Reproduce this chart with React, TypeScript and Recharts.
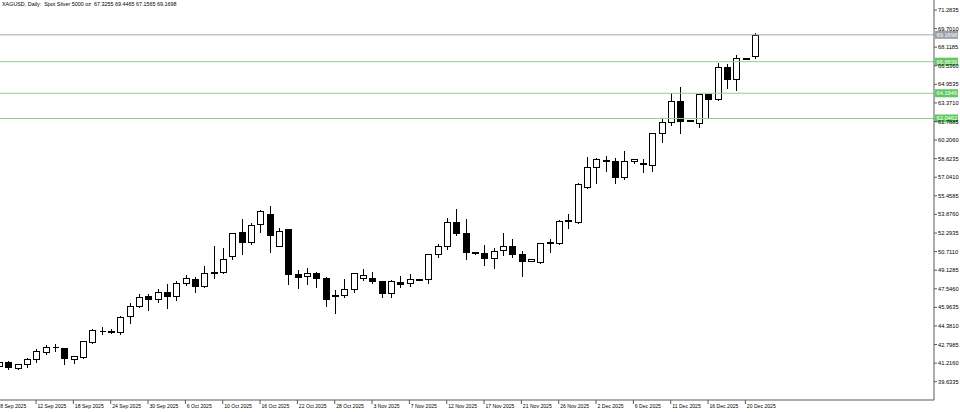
import React from "react";
import { Bar, ComposedChart, ReferenceLine, XAxis, YAxis } from "recharts";

// one label every 4 bars, starting at bar 0
const dateLabels = [
  "8 Sep 2025", "12 Sep 2025", "18 Sep 2025", "24 Sep 2025", "30 Sep 2025",
  "6 Oct 2025", "10 Oct 2025", "16 Oct 2025", "22 Oct 2025", "28 Oct 2025",
  "3 Nov 2025", "7 Nov 2025", "12 Nov 2025", "17 Nov 2025", "21 Nov 2025",
  "26 Nov 2025", "2 Dec 2025", "6 Dec 2025", "11 Dec 2025", "16 Dec 2025",
  "20 Dec 2025",
];

const opens = [
  40.97, 41.34, 40.8, 41.14, 41.54, 42.19, 42.59, 42.53, 41.54, 41.76,
  43.04, 43.95, 43.99, 43.84, 45.23, 46.08, 46.96, 46.65, 47.3, 46.93,
  48.01, 48.38, 47.78, 48.91, 48.95, 50.36, 52.41, 51.5, 53.06, 53.91,
  51.19, 52.64, 48.78, 48.63, 48.86, 48.44, 46.97, 47.02, 47.5, 48.44,
  48.49, 48.23, 47.16, 48.15, 48.01, 48.38, 48.35, 50.48, 51.21, 53.26,
  52.27, 50.7, 50.57, 50.19, 50.85, 51.21, 50.51, 49.95, 49.8, 51.44,
  51.47, 53.34, 53.26, 56.19, 57.94, 58.55, 58.45, 57.09, 58.4, 58.26,
  58.09, 60.84, 61.77, 63.56, 61.87, 61.64, 64.11, 63.68, 66.46, 65.41,
  67.11, 67.3255,
];
const highs = [
  41.4, 41.48, 41.23, 41.76, 42.48, 42.82, 42.9, 42.61, 41.91, 43.18,
  44.18, 44.38, 44.18, 45.31, 46.45, 47.21, 47.16, 47.59, 48.06, 48.29,
  48.78, 48.63, 49.57, 51.27, 51.08, 52.4, 53.55, 53.21, 54.31, 54.68,
  52.83, 52.7, 49.23, 49.43, 49.06, 48.66, 47.5, 48.44, 49.0, 49.29,
  49.09, 48.29, 48.35, 48.72, 48.86, 48.42, 50.57, 51.42, 53.68, 54.4,
  53.55, 50.76, 51.33, 51.13, 52.41, 51.84, 50.85, 50.08, 51.49, 51.84,
  53.46, 53.97, 56.64, 58.85, 58.79, 58.94, 58.79, 59.36, 58.66, 58.66,
  60.92, 62.06, 64.33, 64.81, 61.99, 64.19, 64.13, 66.88, 66.75, 67.51,
  67.24, 69.4465,
];
const lows = [
  40.89, 40.71, 40.71, 40.91, 41.34, 41.99, 42.27, 41.14, 41.2, 41.68,
  42.9, 43.67, 43.75, 43.67, 44.61, 45.97, 45.74, 46.45, 45.88, 46.59,
  47.87, 47.3, 47.72, 48.44, 48.86, 50.08, 50.48, 51.36, 52.41, 50.65,
  51.15, 47.93, 47.59, 47.93, 47.72, 46.08, 45.51, 46.82, 47.3, 48.29,
  48.01, 46.82, 46.82, 47.72, 47.81, 48.27, 48.06, 50.28, 50.91, 52.12,
  50.08, 50.51, 49.57, 49.34, 50.42, 50.28, 48.63, 49.91, 49.71, 50.7,
  51.36, 52.69, 53.15, 56.13, 56.58, 57.6, 56.53, 56.87, 58.23, 57.52,
  57.6, 60.07, 61.49, 60.84, 61.82, 61.35, 62.09, 63.62, 64.62, 64.47,
  67.07, 67.1565,
];
const closes = [
  41.31, 40.86, 41.14, 41.54, 42.25, 42.61, 42.55, 41.68, 41.82, 43.1,
  44.04, 43.99, 43.87, 45.17, 46.08, 46.87, 46.65, 47.3, 46.96, 48.01,
  48.44, 47.78, 48.86, 48.95, 50.06, 52.32, 51.5, 52.98, 54.19, 52.12,
  52.49, 48.78, 48.52, 48.86, 48.44, 46.65, 47.02, 47.53, 48.91, 48.72,
  48.23, 47.16, 48.21, 47.95, 48.4, 48.33, 50.48, 51.21, 53.26, 52.32,
  50.7, 50.59, 50.19, 50.79, 51.21, 50.51, 49.94, 50.04, 51.42, 51.49,
  53.34, 53.4, 56.44, 57.94, 58.6, 58.43, 57.09, 58.43, 58.57, 58.2,
  60.84, 61.77, 63.56, 61.86, 61.94, 64.13, 63.68, 66.46, 65.41, 67.17,
  67.19, 69.1698,
];

const priceTicks = [
  39.6335, 41.216, 42.7985, 44.381, 45.9635, 47.546, 49.1285, 50.711,
  52.2935, 53.876, 55.4585, 57.041, 58.6235, 60.206, 61.7885, 63.371,
  64.9535, 66.536, 68.1185, 69.701, 71.2835,
];
const greenLevels = [66.8836, 64.1946, 62.0462];
const lastPrice = 69.1698;
const title = "XAGUSD, Daily:  Spot Silver 5000 oz  67.3255 69.4465 67.1565 69.1698";

const data = opens.map((o, i) => ({
  i,
  o,
  h: highs[i],
  l: lows[i],
  c: closes[i],
  range: [lows[i], highs[i]],
}));

const dateTicks = dateLabels.map((_, n) => n * 4);
const FONT = "'Liberation Sans', Arial, sans-serif";
const AXIS = "#5a5a5a";

const Candle = (props: any) => {
  const { x, y, width, height, payload } = props;
  if (!payload) return null;
  const { o, h, l, c } = payload;
  const top = Math.min(y, y + height);
  const span = Math.abs(height);
  const ppu = h === l ? 0 : span / (h - l);
  const cx = Math.round(x + width / 2) + 0.5;
  const yo = top + (h - o) * ppu;
  const yc = top + (h - c) * ppu;
  const bTop = Math.round(Math.min(yo, yc)) + 0.5;
  const bBot = Math.round(Math.max(yo, yc)) + 0.5;
  const up = c >= o;
  return (
    <g shapeRendering="crispEdges">
      <line
        x1={cx}
        x2={cx}
        y1={Math.round(top) + 0.5}
        y2={Math.round(top + span) + 0.5}
        stroke="#000"
      />
      {bBot - bTop < 1 ? (
        <line x1={cx - 3} x2={cx + 3} y1={bTop} y2={bTop} stroke="#000" />
      ) : (
        <rect
          x={cx - 3}
          y={bTop}
          width={6}
          height={bBot - bTop}
          fill={up ? "#fff" : "#000"}
          stroke="#000"
        />
      )}
    </g>
  );
};

const DateTick = (props: any) => {
  const { x, y, payload } = props;
  return (
    <text x={x + 1.5} y={y + 1.5} fontSize={5.1} fontFamily={FONT} fill="#000">
      {dateLabels[Math.round(payload.value / 4)]}
    </text>
  );
};

const PriceTick = (props: any) => {
  const { x, y, payload } = props;
  return (
    <text x={x} y={y + 2} fontSize={5.7} fontFamily={FONT} fill="#000">
      {payload.value.toFixed(4)}
    </text>
  );
};

const tag = (fill: string, value: number) => (props: any) => {
  const vb = props.viewBox || {};
  const x = vb.x + vb.width + 1;
  const y = vb.y;
  return (
    <g>
      <rect x={x} y={y - 4} width={23} height={8} fill={fill} />
      <text x={x + 1.5} y={y + 2} fontSize={5.7} fontFamily={FONT} fill="#fff">
        {value.toFixed(4)}
      </text>
    </g>
  );
};

export default function App() {
  return (
    <div style={{ position: "absolute", left: 0, top: 0, width: 960, height: 412, background: "#fff" }}>
      <ComposedChart
        width={960}
        height={412}
        data={data}
        margin={{ top: 0, right: 0, bottom: 0, left: 0 }}
      >
        <XAxis
          dataKey="i"
          type="number"
          domain={[0.139, 100.21]}
          allowDataOverflow
          ticks={dateTicks}
          interval={0}
          height={12}
          tickSize={4}
          tickMargin={2}
          tick={<DateTick />}
          stroke={AXIS}
          tickLine={{ stroke: AXIS }}
        />
        <YAxis
          type="number"
          orientation="right"
          domain={[38.075, 72.135]}
          allowDataOverflow
          ticks={priceTicks}
          interval={0}
          width={26}
          tickSize={3}
          tickMargin={1}
          tick={<PriceTick />}
          stroke={AXIS}
          tickLine={{ stroke: AXIS }}
        />
        <ReferenceLine
          y={lastPrice}
          stroke="#a9a9a9"
          label={tag("#9a9fa8", lastPrice)}
        />
        {greenLevels.map((v) => (
          <ReferenceLine key={v} y={v} stroke="#8fd08f" label={tag("#5fc95f", v)} />
        ))}
        <Bar
          dataKey="range"
          barSize={6}
          shape={<Candle />}
          isAnimationActive={false}
        />
      </ComposedChart>
      <div
        style={{
          position: "absolute",
          left: 2,
          top: 0,
          fontSize: 5.4,
          fontFamily: FONT,
          color: "#000",
          whiteSpace: "pre",
          lineHeight: "8px",
        }}
      >
        {title}
      </div>
    </div>
  );
}
